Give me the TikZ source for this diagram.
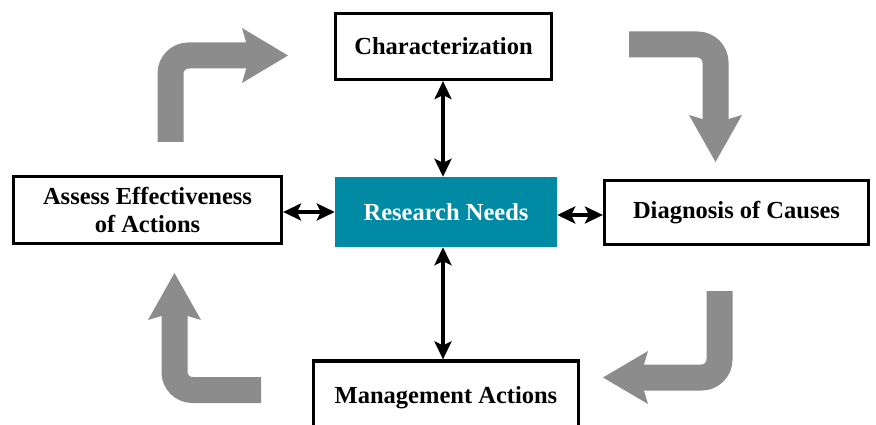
\documentclass[tikz,border=0pt]{standalone}
\usepackage{fontspec}
\setmainfont{Liberation Serif}
\usetikzlibrary{arrows.meta}
\definecolor{teal1}{RGB}{0,138,163}
\definecolor{grayarr}{RGB}{140,140,140}
\begin{document}
\begin{tikzpicture}[x=1pt,y=-1pt,
  box/.style={draw=black, line width=3.2pt, fill=white, align=center,
    font=\bfseries\fontsize{24.5}{28}\selectfont, inner sep=0pt},
  hub/.style={fill=teal1, text=white, align=center,
    font=\bfseries\fontsize{24.5}{28}\selectfont, inner sep=0pt,
    minimum width=222pt, minimum height=70pt},
  dbl/.style={line width=3.4pt, {Stealth[length=18pt,width=17pt,inset=4pt]}-{Stealth[length=18pt,width=17pt,inset=4pt]}},
  cyc/.style={draw=grayarr, line width=26pt, rounded corners=18pt},
  cychead/.style={fill=grayarr}
  ]
\clip (0,0) rectangle (876,425);
\fill[white] (0,0) rectangle (876,425);

% boxes
\node[box, minimum width=216pt, minimum height=66pt] (char) at (443.5,46.5) {Characterization};
\node[hub] (rn) at (446,212) {Research Needs};
\node[box, minimum width=268pt, minimum height=67pt] (assess) at (147.5,210) {Assess Effectiveness\\of Actions};
\node[box, minimum width=264pt, minimum height=64pt] (diag) at (736.5,212.5) {Diagnosis of Causes};
\node[box, minimum width=265pt, minimum height=73pt] (mgmt) at (446,397.5) {Management Actions};

% double arrows
\draw[dbl] (char.south -| 443,0) -- (rn.north -| 443,0);
\draw[dbl] (rn.south -| 443,0) -- (mgmt.north -| 443,0);
\draw[dbl] (assess.east |- 0,212) -- (rn.west |- 0,212);
\draw[dbl] (rn.east |- 0,215) -- (diag.west |- 0,215);

% cycle arrows
\coordinate (tlA) at (170.5,142);
\coordinate (tlB) at (170.5,55.5);
\coordinate (tlC) at (251,55.5);
\draw[cyc] (tlA) -- (tlB) -- (tlC);
\fill[cychead] (242,28) -- (288,55.5) -- (242,83) -- (250,55.5) -- cycle;

\coordinate (trA) at (629,44.5);
\coordinate (trB) at (715.5,44.5);
\coordinate (trC) at (715.5,124);
\draw[cyc] (trA) -- (trB) -- (trC);
\fill[cychead] (689,115) -- (715.5,162) -- (742,115) -- (715.5,123) -- cycle;

\coordinate (brA) at (719.5,291);
\coordinate (brB) at (719.5,377.5);
\coordinate (brC) at (639,377.5);
\draw[cyc] (brA) -- (brB) -- (brC);
\fill[cychead] (648,351) -- (603,377.5) -- (648,404) -- (640,377.5) -- cycle;

\coordinate (blA) at (261,390);
\coordinate (blB) at (174.5,390);
\coordinate (blC) at (174.5,311);
\draw[cyc] (blA) -- (blB) -- (blC);
\fill[cychead] (148,320) -- (174.5,273) -- (201,320) -- (174.5,312) -- cycle;
\end{tikzpicture}
\end{document}
